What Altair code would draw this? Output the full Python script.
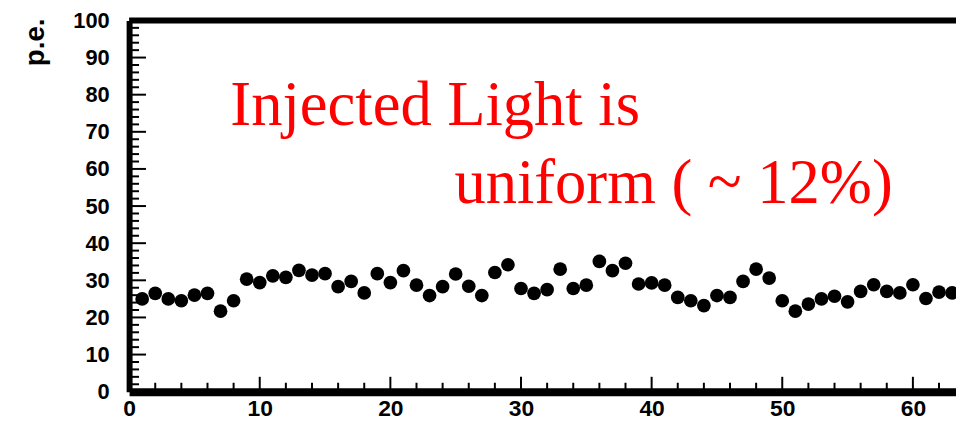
import altair as alt
import pandas as pd

# ---- data ----
channels = list(range(1, 64))
pe = [25.0, 26.5, 25.0, 24.5, 26.0, 26.5, 21.7, 24.5, 30.3, 29.4,
      31.2, 30.8, 32.7, 31.4, 31.8, 28.3, 29.7, 26.6, 31.8, 29.4,
      32.6, 28.7, 25.9, 28.3, 31.7, 28.4, 25.9, 32.1, 34.2, 27.8,
      26.5, 27.5, 33.0, 27.8, 28.7, 35.1, 32.6, 34.6, 29.0, 29.3,
      28.7, 25.4, 24.5, 23.2, 25.9, 25.4, 29.7, 33.0, 30.6, 24.5,
      21.7, 23.6, 25.0, 25.7, 24.2, 27.0, 28.8, 27.0, 26.6, 28.8,
      25.1, 26.8, 26.6]

x_labels = [0, 10, 20, 30, 40, 50, 60]
y_labels = [0, 10, 20, 30, 40, 50, 60, 70, 80, 90, 100]
x_major = [10, 20, 30, 40, 50, 60]
x_minor = [v for v in range(2, 64, 2) if v % 10 != 0]
y_major = [10, 20, 30, 40, 50, 60, 70, 80, 90]
y_minor = [v for v in range(2, 100, 2) if v % 10 != 0]

notes = ["Injected Light is", "uniform ( ~ 12%)"]
notes_x = [7.75, 24.9]
notes_y = [71.9, 50.8]
y_title = "p.e."

W, H = 833, 374
xs = alt.Scale(domain=[0, 63.3], nice=False, zero=False)
ys = alt.Scale(domain=[0, 100], nice=False, zero=False)
LF = "Liberation Sans"

xax = alt.Axis(values=x_labels, title=None)
yax = alt.Axis(values=y_labels, title=None)

df = pd.DataFrame({"ch": channels, "pe": pe})

points = alt.Chart(df).mark_point(
    shape="circle", filled=True, size=190, color="black", opacity=1
).encode(
    x=alt.X("ch:Q", scale=xs, axis=xax),
    y=alt.Y("pe:Q", scale=ys, axis=yax),
)

ymaj = alt.Chart(pd.DataFrame({"v": y_major})).mark_rule(color="black", strokeWidth=2).encode(
    y=alt.Y("v:Q", scale=ys, axis=yax), x=alt.value(0), x2=alt.value(17))
ymin = alt.Chart(pd.DataFrame({"v": y_minor})).mark_rule(color="black", strokeWidth=2).encode(
    y=alt.Y("v:Q", scale=ys, axis=yax), x=alt.value(0), x2=alt.value(10))
xmaj = alt.Chart(pd.DataFrame({"v": x_major})).mark_rule(color="black", strokeWidth=2).encode(
    x=alt.X("v:Q", scale=xs, axis=xax), y=alt.value(H), y2=alt.value(H - 15))
xmin = alt.Chart(pd.DataFrame({"v": x_minor})).mark_rule(color="black", strokeWidth=2).encode(
    x=alt.X("v:Q", scale=xs, axis=xax), y=alt.value(H), y2=alt.value(H - 9))

top = alt.Chart(pd.DataFrame({"v": [100]})).mark_rule(color="black", strokeWidth=6).encode(
    y=alt.Y("v:Q", scale=ys, axis=yax))

tdf = pd.DataFrame({"t": notes, "nx": notes_x, "ny": notes_y})
txt = alt.Chart(tdf).mark_text(
    font="Liberation Serif", fontSize=63, color="#ff0000", align="left", baseline="alphabetic"
).encode(
    x=alt.X("nx:Q", scale=xs, axis=xax),
    y=alt.Y("ny:Q", scale=ys, axis=yax),
    text="t:N",
)

ttl = alt.Chart(pd.DataFrame({"t": [y_title]})).mark_text(
    font=LF, fontSize=28, fontWeight="bold", color="black", angle=270,
    align="right", baseline="alphabetic"
).encode(x=alt.value(-86), y=alt.value(-2), text="t:N")

chart = alt.layer(points, ymin, ymaj, xmin, xmaj, top, txt, ttl).properties(
    width=W, height=H,
    autosize=alt.AutoSizeParams(type="none"),
    padding={"left": 122, "top": 11, "right": 0, "bottom": 28},
).configure_view(stroke=None).configure(background="white").configure_axis(
    domainColor="black", ticks=False, tickSize=0, grid=False,
    labelFont=LF, labelFontWeight="bold", labelColor="black",
    labelFlush=False, labelOverlap=False, labelBound=False,
).configure_axisX(
    domainWidth=8, labelFontSize=23, labelPadding=6,
).configure_axisY(
    domainWidth=6, labelFontSize=22, labelPadding=20,
)

chart.save("out.html", embed_options={"renderer": "svg", "actions": False})
